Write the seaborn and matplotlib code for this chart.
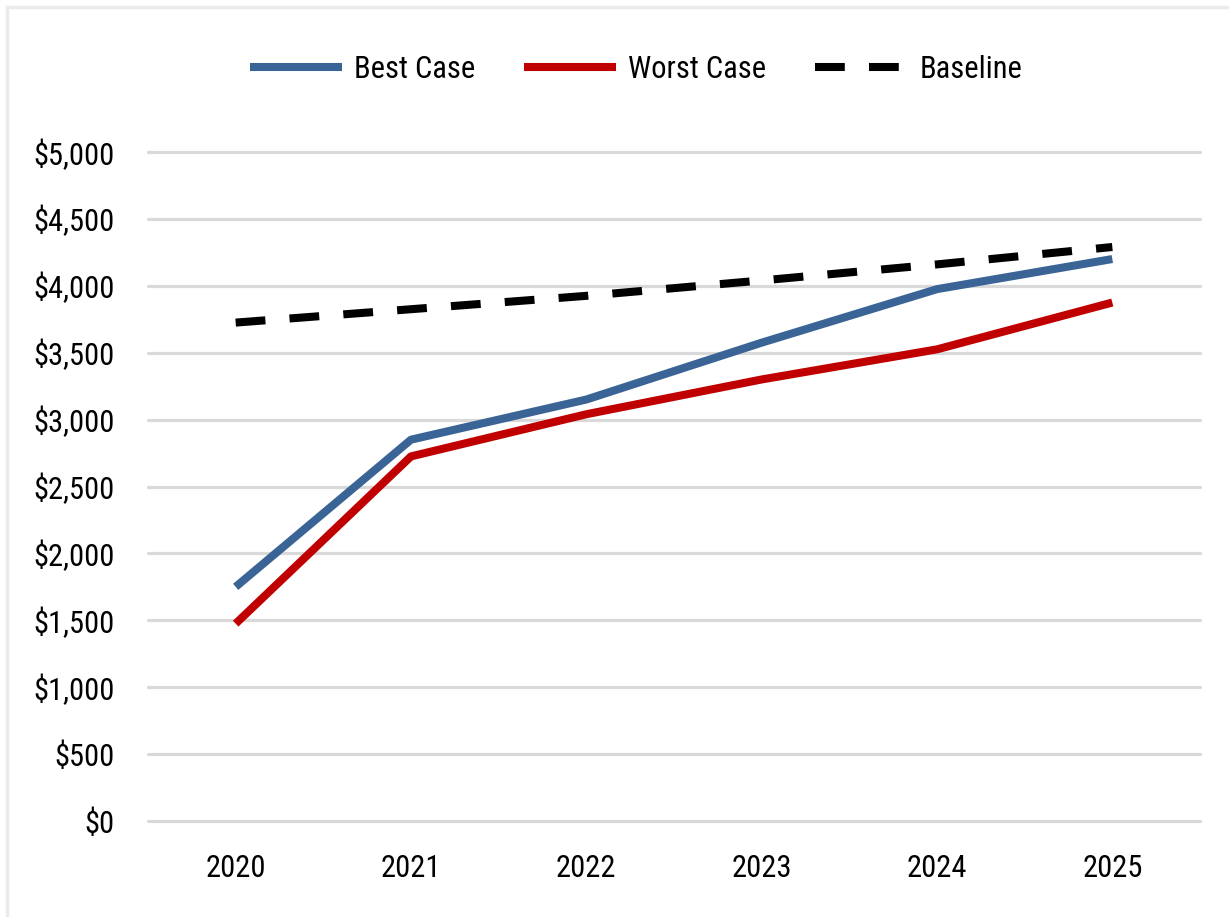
import numpy as np
import matplotlib
matplotlib.use("Agg")
import matplotlib.pyplot as plt
import matplotlib.patches as patches
from matplotlib import font_manager
import pandas as pd
import seaborn as sns

years = [2020, 2021, 2022, 2023, 2024, 2025]
best_case = [1750, 2850, 3150, 3575, 3975, 4200]
worst_case = [1475, 2725, 3040, 3300, 3525, 3875]
baseline = [3725, 3825, 3925, 4040, 4160, 4290]

series_names = ["Best Case", "Worst Case", "Baseline"]
series_colors = ["#3A6495", "#C00000", "#000000"]

sns.set_style("white")

# pick a narrow face if there is one, the reference uses a condensed font
installed = {f.name for f in font_manager.fontManager.ttflist}
font_choice, fsize = "Liberation Sans", 21
for cand, sz in [("Liberation Sans Narrow", 24), ("Roboto Condensed", 22),
                 ("DejaVu Sans Condensed", 20)]:
    if cand in installed:
        font_choice, fsize = cand, sz
        break
plt.rcParams['font.family'] = [font_choice, 'DejaVu Sans']
plt.rcParams['text.color'] = 'black'

df = pd.DataFrame({
    "year": years * 3,
    "value": best_case + worst_case + baseline,
    "series": [n for n in series_names for _ in years],
})

fig = plt.figure(figsize=(12.29, 9.17), dpi=100)
ax = fig.add_axes([148 / 1229, 1 - 821 / 917, 1052 / 1229, 669 / 917])

# outer chart frame (only top and left visible in the reference)
fig.patches.append(patches.Rectangle((7 / 1229, -0.05), 1.1, 1 - 7 / 917 + 0.05,
                                     transform=fig.transFigure, fill=False,
                                     edgecolor="#EBEBEB", linewidth=2.5, zorder=0))

for name, col in zip(series_names, series_colors):
    sub = df[df["series"] == name]
    sns.lineplot(data=sub, x="year", y="value", ax=ax, color=col, linewidth=5.8,
                 label=name, solid_capstyle="butt", dash_capstyle="butt")

ax.lines[2].set_dashes((3.7, 3.0))

ax.set_xlim(2019.5, 2025.5)
ax.set_ylim(0, 5000)
ax.set_xticks(years)
ax.set_xticklabels([str(y) for y in years])
ax.set_yticks(np.arange(0, 5001, 500))
ax.set_yticklabels(["${:,}".format(v) for v in range(0, 5001, 500)])
ax.set_xlabel("")
ax.set_ylabel("")
ax.yaxis.grid(True, color="#D9D9D9", linewidth=2.3)
for gl in ax.get_ygridlines():
    gl.set_clip_on(False)
ax.set_axisbelow(True)
for s in ax.spines.values():
    s.set_visible(False)
ax.tick_params(axis="both", length=0, labelsize=fsize, colors="#000000")
ax.tick_params(axis="y", pad=24)
ax.tick_params(axis="x", pad=24)

leg = ax.legend(loc="center", bbox_to_anchor=(0.5 + (636 - 674) / 1052, (821 - 69) / 669),
                ncol=3, frameon=False, fontsize=fsize, handlelength=92 / (fsize * 100 / 72),
                handletextpad=0.4, columnspacing=1.6)
for t in leg.get_texts():
    t.set_color("black")

fig.savefig("out.png", dpi=100)
